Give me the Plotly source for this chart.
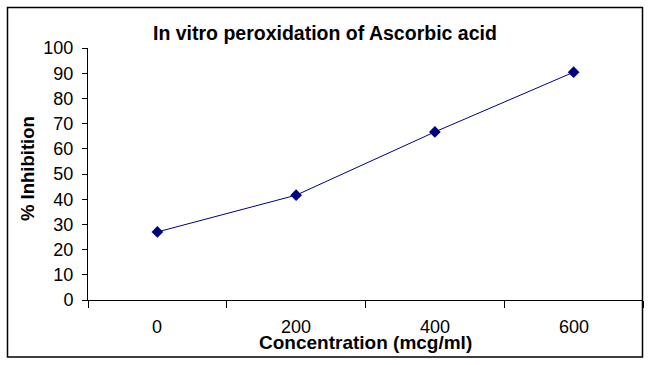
import plotly.graph_objects as go

categories = ["0", "200", "400", "600"]
inhibition = [27.0, 41.6, 66.7, 90.4]
y_ticks = [0, 10, 20, 30, 40, 50, 60, 70, 80, 90, 100]

W, H = 651, 365
L, R, T, B = 88, 643, 48, 300  # plot area in pixels
pw, ph = R - L, B - T

def px(x):
    return (x - L) / pw

def py(y):
    return (B - y) / ph

fig = go.Figure()
fig.add_trace(go.Scatter(
    x=list(range(len(categories))), y=inhibition,
    mode="lines+markers",
    line=dict(color="#000080", width=1),
    marker=dict(symbol="diamond", size=9, color="#000080"),
    showlegend=False,
))

font = "Liberation Sans, Arial, sans-serif"
fig.update_layout(
    width=W, height=H,
    margin=dict(l=L, r=W - R, t=T, b=H - B),
    paper_bgcolor="white", plot_bgcolor="white",
    font=dict(family=font, color="black", size=18),
    xaxis=dict(
        range=[-0.5, len(categories) - 0.5],
        tickmode="array",
        tickvals=[i - 0.5 for i in range(len(categories) + 1)],
        ticktext=[""] * (len(categories) + 1),
        ticks="outside", ticklen=7, tickcolor="black", tickwidth=1,
        showline=True, linecolor="black", linewidth=1,
        showgrid=False, zeroline=False,
    ),
    yaxis=dict(
        range=[0, 100],
        tickvals=y_ticks,
        ticks="outside", ticklen=5, tickcolor="black", tickwidth=1,
        showline=True, linecolor="black", linewidth=1,
        showgrid=False, zeroline=False,
        tickfont=dict(size=18),
        ticklabelstandoff=5,
    ),
)

annotations = []
for i, c in enumerate(categories):
    annotations.append(dict(
        x=i, xref="x", y=py(327), yref="paper",
        text=c, showarrow=False, xanchor="center", yanchor="middle",
        font=dict(size=18),
    ))
annotations.append(dict(
    x=px(325), y=py(33), xref="paper", yref="paper",
    text="<b>In vitro peroxidation of Ascorbic acid</b>",
    showarrow=False, xanchor="center", yanchor="middle",
    font=dict(size=19.5),
))
annotations.append(dict(
    x=px(365), y=py(342), xref="paper", yref="paper",
    text="<b>Concentration (mcg/ml)</b>",
    showarrow=False, xanchor="center", yanchor="middle",
    font=dict(size=19),
))
annotations.append(dict(
    x=px(27), y=py(169), xref="paper", yref="paper",
    text="<b>% Inhibition</b>", textangle=-90,
    showarrow=False, xanchor="center", yanchor="middle",
    font=dict(size=18.5),
))
fig.update_layout(annotations=annotations)

fig.add_shape(
    type="rect", xref="paper", yref="paper",
    x0=px(7.5), x1=px(642.5), y0=py(357), y1=py(7.5),
    line=dict(color="black", width=1.5), fillcolor="rgba(0,0,0,0)",
    layer="above",
)

fig.write_html(
    "out.html",
    config={"displayModeBar": False, "staticPlot": True},
    post_script="document.body.style.margin='0';document.body.style.overflow='hidden';",
)
